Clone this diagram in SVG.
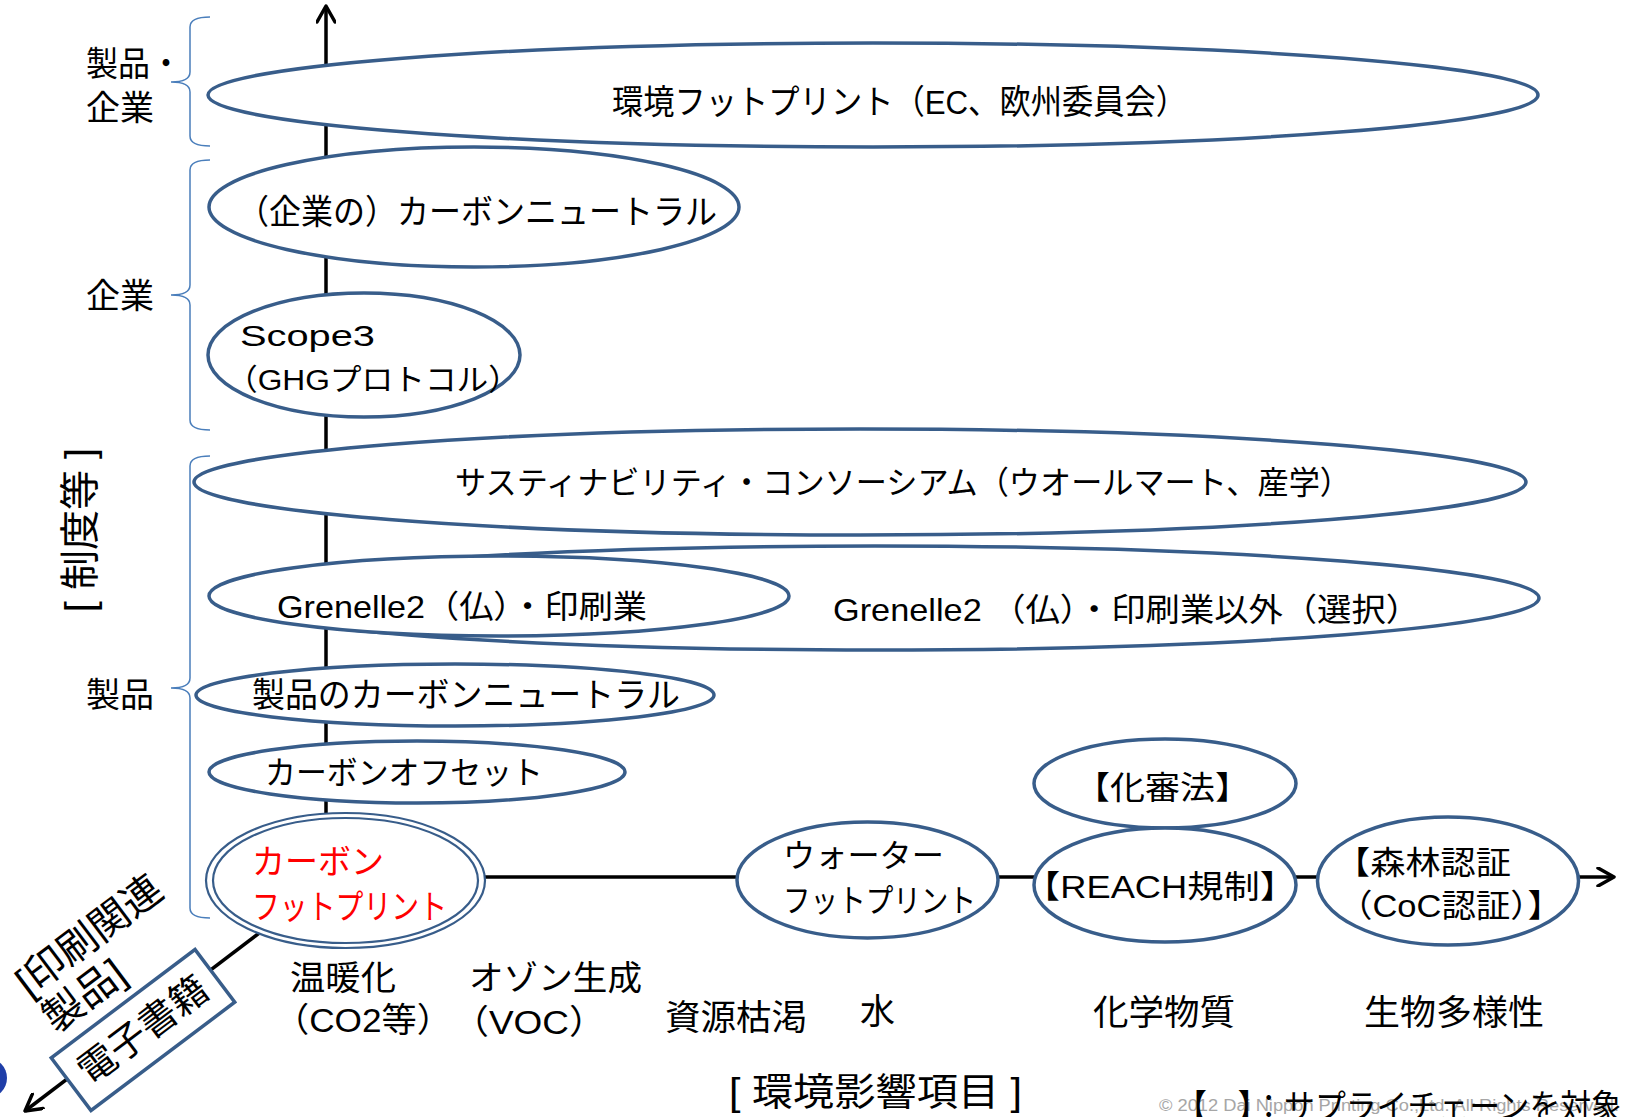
<svg xmlns="http://www.w3.org/2000/svg" width="1628" height="1117" viewBox="0 0 1628 1117">
<defs>
<style>
.t{font-family:"Liberation Sans","Noto Sans CJK JP",sans-serif;fill:#000}
.red{fill:#ff0000}
.node ellipse,.node rect{fill:#fff;stroke:#385D8A;stroke-width:3.5}
.dbl ellipse{fill:#fff;stroke:#385D8A;stroke-width:2.2}
.brace{fill:none;stroke:#4A7EBB;stroke-width:1.5}
.axis{fill:none;stroke:#000;stroke-width:3.5}
</style>
<marker id="ah" viewBox="0 0 20 20" refX="18" refY="10" markerWidth="20" markerHeight="20" markerUnits="userSpaceOnUse" orient="auto">
<path d="M2,1 L18,10 L2,19" fill="none" stroke="#000" stroke-width="3.5" stroke-linecap="round" stroke-linejoin="round"/>
</marker>
</defs>
<rect width="1628" height="1117" fill="#fff"/>

<!-- braces and side labels -->
<g id="braces">
<path class="brace" d="M210,17 Q190,17 190,27 L190,72 Q190,82 171,82 Q190,82 190,92 L190,136 Q190,146 210,146"/>
<path class="brace" d="M210,160 Q190,160 190,170 L190,285 Q190,295 171,295 Q190,295 190,305 L190,420 Q190,430 210,430"/>
<path class="brace" d="M210,456 Q190,456 190,466 L190,678 Q190,688 171,688 Q190,688 190,698 L190,908 Q190,918 210,918"/>
</g>
<g id="side-labels">
<text class="t" x="86" y="76" font-size="34" textLength="96" lengthAdjust="spacingAndGlyphs">製品・</text>
<text class="t" x="86" y="120" font-size="34" textLength="68" lengthAdjust="spacingAndGlyphs">企業</text>
<text class="t" x="86" y="308" font-size="34" textLength="68" lengthAdjust="spacingAndGlyphs">企業</text>
<text class="t" x="86" y="707" font-size="34" textLength="68" lengthAdjust="spacingAndGlyphs">製品</text>
<text class="t" transform="translate(94,530) rotate(-90)" text-anchor="middle" font-size="40">[ 制度等 ]</text>
</g>

<!-- connectors / axes -->
<g id="connectors">
<path class="axis" d="M326,880 L326,6" marker-end="url(#ah)"/>
<path class="axis" d="M345,877 L1614,877" marker-end="url(#ah)"/>
<path class="axis" d="M283,915 L25,1111" marker-end="url(#ah)"/>
</g>

<!-- nodes -->
<g id="n-env-footprint" class="node">
<ellipse cx="873" cy="95" rx="665" ry="52"/>
<text class="t" x="612" y="114" font-size="34" textLength="575" lengthAdjust="spacingAndGlyphs">環境フットプリント（EC、欧州委員会）</text>
</g>
<g id="n-corp-neutral" class="node">
<ellipse cx="474" cy="207" rx="265" ry="60"/>
<text class="t" x="237" y="224" font-size="34" textLength="480" lengthAdjust="spacingAndGlyphs">（企業の）カーボンニュートラル</text>
</g>
<g id="n-scope3" class="node">
<ellipse cx="364" cy="355" rx="156" ry="62"/>
<text class="t" x="240" y="346" font-size="30" textLength="135" lengthAdjust="spacingAndGlyphs">Scope3</text>
<text class="t" x="226" y="390" font-size="30" textLength="294" lengthAdjust="spacingAndGlyphs">（GHGプロトコル）</text>
</g>
<g id="n-sustainability" class="node">
<ellipse cx="860" cy="482" rx="666" ry="53"/>
<text class="t" x="455" y="494" font-size="32" textLength="896" lengthAdjust="spacingAndGlyphs">サスティナビリティ・コンソーシアム（ウオールマート、産学）</text>
</g>
<g id="n-grenelle-other" class="node">
<ellipse cx="875" cy="598" rx="664" ry="52"/>
<text class="t" x="833" y="621" font-size="32" textLength="587" lengthAdjust="spacingAndGlyphs">Grenelle2 （仏）・印刷業以外（選択）</text>
</g>
<g id="n-grenelle-print" class="node">
<ellipse cx="499" cy="596" rx="290" ry="40"/>
<text class="t" x="277" y="618" font-size="32" textLength="370" lengthAdjust="spacingAndGlyphs">Grenelle2（仏）・印刷業</text>
</g>
<g id="n-product-neutral" class="node">
<ellipse cx="455" cy="695" rx="259" ry="31"/>
<text class="t" x="252" y="707" font-size="34" textLength="428" lengthAdjust="spacingAndGlyphs">製品のカーボンニュートラル</text>
</g>
<g id="n-offset" class="node">
<ellipse cx="417" cy="772" rx="208" ry="31"/>
<text class="t" x="265" y="784" font-size="32" textLength="278" lengthAdjust="spacingAndGlyphs">カーボンオフセット</text>
</g>
<g id="n-carbon-footprint" class="dbl">
<ellipse cx="345.5" cy="880.5" rx="139.5" ry="67.5"/>
<ellipse cx="345.5" cy="880.5" rx="132.5" ry="62.5"/>
<text class="t red" x="252" y="874" font-size="34" textLength="132" lengthAdjust="spacingAndGlyphs">カーボン</text>
<text class="t red" x="252" y="919" font-size="34" textLength="195" lengthAdjust="spacingAndGlyphs">フットプリント</text>
</g>
<g id="n-water" class="node">
<ellipse cx="867.5" cy="880" rx="130.5" ry="58"/>
<text class="t" x="783" y="867" font-size="32" textLength="161" lengthAdjust="spacingAndGlyphs">ウォーター</text>
<text class="t" x="783" y="912" font-size="32" textLength="193" lengthAdjust="spacingAndGlyphs">フットプリント</text>
</g>
<g id="n-kashinho" class="node">
<ellipse cx="1165" cy="783.5" rx="131" ry="44.5"/>
<text class="t" x="1075" y="799" font-size="32" textLength="175" lengthAdjust="spacingAndGlyphs">【化審法】</text>
</g>
<g id="n-reach" class="node">
<ellipse cx="1165" cy="885" rx="131" ry="57"/>
<text class="t" x="1024" y="898" font-size="32" textLength="272" lengthAdjust="spacingAndGlyphs">【REACH規制】</text>
</g>
<g id="n-forest" class="node">
<ellipse cx="1448" cy="881" rx="130.5" ry="64"/>
<text class="t" x="1335" y="874" font-size="32" textLength="176" lengthAdjust="spacingAndGlyphs">【森林認証</text>
<text class="t" x="1338" y="917" font-size="32" textLength="224" lengthAdjust="spacingAndGlyphs">（CoC認証）】</text>
</g>
<g id="n-ebook" class="node" transform="translate(143,1030) rotate(-37)">
<rect x="-90" y="-33" width="180" height="66"/>
<text class="t" x="0" y="13" font-size="38" text-anchor="middle">電子書籍</text>
</g>

<!-- labels -->
<g id="print-label" transform="translate(29,998) rotate(-37)">
<text class="t" x="0" y="0" font-size="40">[印刷関連</text>
<text class="t" x="0" y="45" font-size="40">製品]</text>
</g>
<g id="impact-labels">
<text class="t" x="290" y="990" font-size="34" textLength="106" lengthAdjust="spacingAndGlyphs">温暖化</text>
<text class="t" x="274" y="1032" font-size="34" textLength="178" lengthAdjust="spacingAndGlyphs">（CO2等）</text>
<text class="t" x="469" y="990" font-size="34" textLength="173" lengthAdjust="spacingAndGlyphs">オゾン生成</text>
<text class="t" x="452" y="1034" font-size="34" textLength="154" lengthAdjust="spacingAndGlyphs">（VOC）</text>
<text class="t" x="665" y="1030" font-size="35" textLength="142" lengthAdjust="spacingAndGlyphs">資源枯渇</text>
<text class="t" x="860" y="1024" font-size="35">水</text>
<text class="t" x="1093" y="1025" font-size="35" textLength="142" lengthAdjust="spacingAndGlyphs">化学物質</text>
<text class="t" x="1364" y="1025" font-size="35" textLength="180" lengthAdjust="spacingAndGlyphs">生物多様性</text>
<text class="t" x="729" y="1105" font-size="38" textLength="293" lengthAdjust="spacingAndGlyphs">[ 環境影響項目 ]</text>
</g>
<circle cx="-13" cy="1078" r="20" fill="#1f3ea8"/>
<text x="1159" y="1111" font-family="Liberation Sans, Arial, sans-serif" font-size="16" fill="#a6a6a6" textLength="460" lengthAdjust="spacingAndGlyphs">© 2012 Dai Nippon Printing Co.,Ltd. All Rights Reserved.</text>
<text class="t" x="1176" y="1119" font-size="34" textLength="446" lengthAdjust="spacingAndGlyphs">【　】：サプライチェーンを対象</text>
</svg>
